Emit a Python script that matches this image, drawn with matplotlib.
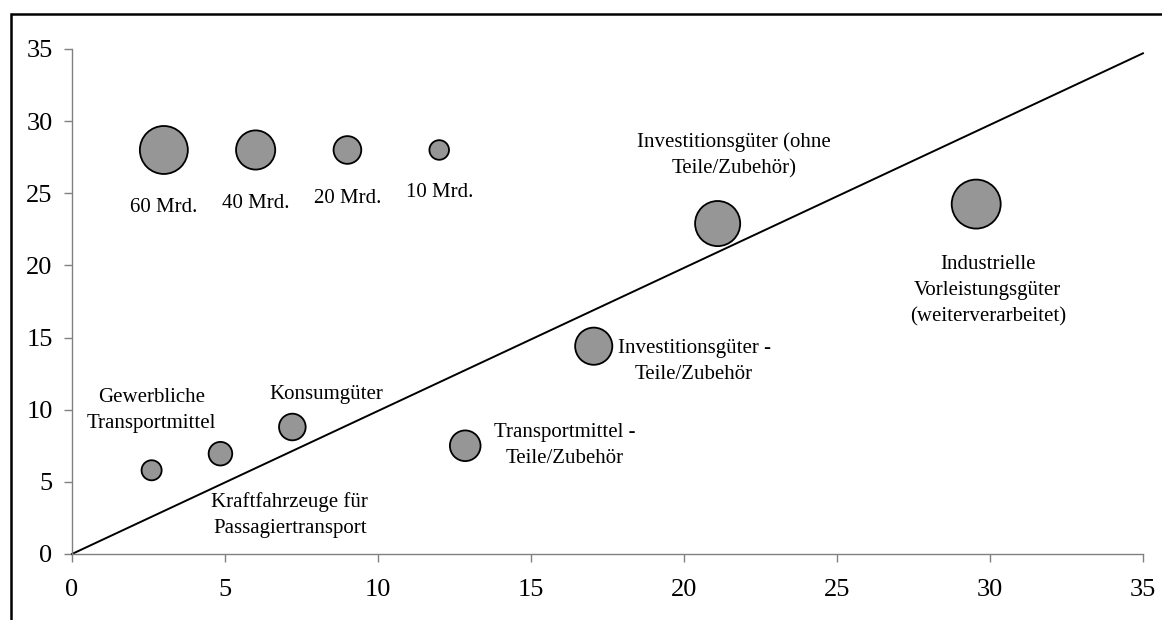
import matplotlib.pyplot as plt
from matplotlib.patches import Rectangle

plt.rcParams['font.family'] = ['Liberation Serif', 'DejaVu Serif']

# size legend bubbles
legend_x = [3, 6, 9, 12]
legend_y = [28, 28, 28, 28]
legend_vals = [60, 40, 20, 10]
legend_labels = ["60 Mrd.", "40 Mrd.", "20 Mrd.", "10 Mrd."]

# data bubbles
names = ["Gewerbliche\nTransportmittel",
         "Kraftfahrzeuge für\nPassagiertransport",
         "Konsumgüter",
         "Transportmittel -\nTeile/Zubehör",
         "Investitionsgüter -\nTeile/Zubehör",
         "Investitionsgüter (ohne\nTeile/Zubehör)",
         "Industrielle\nVorleistungsgüter\n(weiterverarbeitet)"]
x = [2.6, 4.85, 7.2, 12.85, 17.05, 21.1, 29.55]
y = [5.8, 6.95, 8.8, 7.5, 14.4, 22.9, 24.25]
vol = [10.5, 14.5, 18.5, 24.5, 36, 53, 62.5]

# diagonal line
line_x = [0, 35]
line_y = [0, 34.7]

fig = plt.figure(figsize=(11.62, 6.2), dpi=100)
ax = fig.add_axes([0.062, 0.1065, 0.9216, 0.8145])

scale = 19.9
ax.scatter(legend_x, legend_y, s=[v * scale for v in legend_vals],
           c='#969696', edgecolors='black', linewidths=1.3, zorder=3)
ax.scatter(x, y, s=[v * scale for v in vol],
           c='#969696', edgecolors='black', linewidths=1.3, zorder=3)
ax.plot(line_x, line_y, color='black', lw=1.4, zorder=2, clip_on=False)

# legend labels
leg_pos = [(3, 24.0), (6, 24.3), (9, 24.65), (12, 25.05)]
for (tx, ty), t in zip(leg_pos, legend_labels):
    ax.text(tx, ty, t, ha='center', va='center', fontsize=15)

# point labels
lab_pos = [(2.6, 9.93), (7.12, 2.7), (8.3, 11.04), (16.1, 7.5),
           (20.33, 13.33), (21.63, 27.64), (29.93, 18.26)]
for (tx, ty), t in zip(lab_pos, names):
    ax.text(tx, ty, t, ha='center', va='center', fontsize=15,
            linespacing=1.5)

ax.set_xlim(0, 35)
ax.set_ylim(0, 35)
ax.set_xticks(range(0, 36, 5))
ax.set_yticks(range(0, 36, 5))
ax.spines['top'].set_visible(False)
ax.spines['right'].set_visible(False)
for s in ['left', 'bottom']:
    ax.spines[s].set_color('#808080')
    ax.spines[s].set_linewidth(1.0)
ax.tick_params(axis='both', direction='out', length=6, width=1.0,
               color='#808080', labelsize=19)
ax.tick_params(axis='x', pad=12)
ax.tick_params(axis='y', pad=8)

# outer frame
fig.patches.append(Rectangle((11 / 1162, -0.1), 1.2, 1.1 - 14 / 620,
                             transform=fig.transFigure, fill=False,
                             edgecolor='black', lw=1.8))

fig.savefig('out.png', dpi=100)
